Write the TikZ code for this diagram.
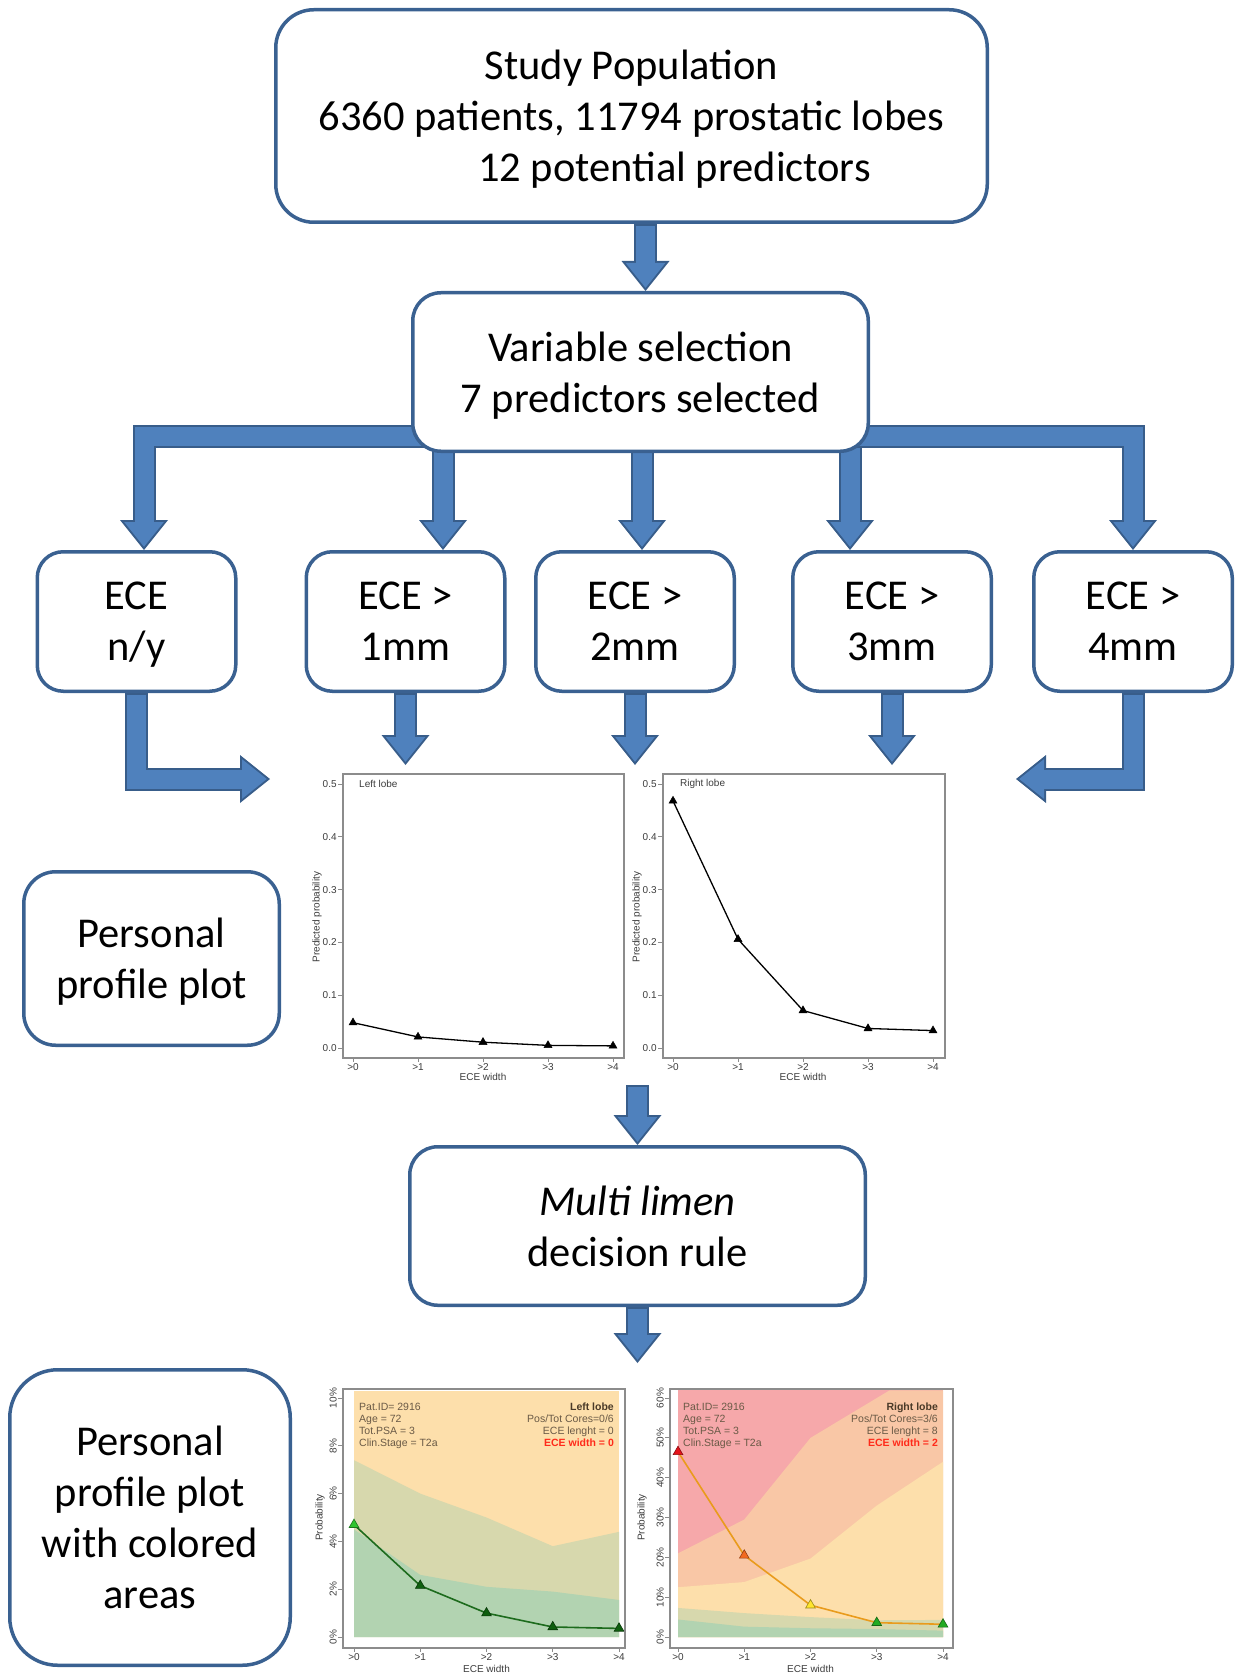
\documentclass[tikz,border=0pt]{standalone}
\usepackage{fontspec}
\setmainfont{Carlito}
\newfontfamily\plotfont{Liberation Sans}
\usetikzlibrary{arrows.meta, positioning, backgrounds, plotmarks}

\definecolor{boxline}{HTML}{3A6191}
\definecolor{flowfill}{HTML}{4F81BD}
\definecolor{flowline}{HTML}{385D8A}
\definecolor{axisgrey}{HTML}{8C8C8C}
\definecolor{ticktext}{HTML}{3C3C3C}
\definecolor{bandorange}{HTML}{FDDFAB}
\definecolor{bandolive}{HTML}{D7D8AD}
\definecolor{bandgreen}{HTML}{B2D3B1}
\definecolor{bandpink}{HTML}{F6A8AA}
\definecolor{bandsalmon}{HTML}{F9C7A6}
\definecolor{infotext}{HTML}{6A5A46}
\definecolor{infodark}{HTML}{4A3A28}
\definecolor{widthred}{HTML}{FF2A1A}
\definecolor{curvegreen}{HTML}{1D6B1D}
\definecolor{curveorange}{HTML}{E99B1C}
\definecolor{markgreen}{HTML}{0F5F0F}
\definecolor{marklime}{HTML}{2FC42F}
\definecolor{markred}{HTML}{E5121A}
\definecolor{markorange}{HTML}{F26A1F}
\definecolor{markyellow}{HTML}{FFE52E}
\definecolor{markmid}{HTML}{22AA22}

\begin{document}
\begin{tikzpicture}[
    x=1pt, y=-1pt,
    every node/.style={font=\fontsize{42.5pt}{51pt}\selectfont},
    box/.style={draw=boxline, line width=3.5pt, fill=white, align=center, inner sep=0pt, text depth=0pt},
    ecebox/.style={box, rounded corners=26pt, minimum width=198.5pt, minimum height=139.5pt},
    flow/.style={draw=flowline, line width=23pt,
      -{Triangle[length=30pt 0 0, width=48pt 0 0, line width=0pt 0 0]},
      postaction={draw=flowfill, line width=19pt, shorten <=2pt, shorten >=3.2pt,
        -{Triangle[length=24.8pt 0 0, width=39.7pt 0 0, line width=0pt 0 0]}}},
    plotframe/.style={draw=axisgrey, line width=1.2pt, inner sep=0pt},
    tickmark/.style={draw=axisgrey, line width=0.8pt},
    ticklbl/.style={font=\plotfont\fontsize{10pt}{11pt}\selectfont, text=ticktext, inner sep=1pt},
    info/.style={font=\plotfont\fontsize{10.5pt}{12pt}\selectfont, text=infotext, align=left, inner sep=0pt},
    profile/.style={draw=black, line width=1.3pt, mark=triangle*, mark size=4.6pt,
      mark options={fill=black, line width=0.5pt}},
    trend/.style={line width=1.6pt},
    tri/.style={mark=triangle*, mark size=5.6pt, mark options={fill=#1, draw=#1!60!black, line width=0.6pt}}
  ]
  \useasboundingbox (0,0) rectangle (1240,1677);

  % flow chart boxes
  \node[box, rounded corners=38pt, minimum width=711.5pt, minimum height=212.5pt] (study) at (631.5,116)
    {Study Population\\6360 patients, 11794 prostatic lobes\\\hspace*{86pt}12 potential predictors};
  \node[box, rounded corners=28pt, minimum width=455.5pt, minimum height=158.5pt,
    below=67pt of study, xshift=9pt] (varsel) {Variable selection\\7 predictors selected};

  \node[ecebox] (ece0) at (136.5,621.5) {ECE\\n/y};
  \node[ecebox, right=67pt of ece0] (ece1) {ECE >\\1mm};
  \node[ecebox, right=27.5pt of ece1] (ece2) {ECE >\\2mm};
  \node[ecebox, right=55pt of ece2] (ece3) {ECE >\\3mm};
  \node[ecebox, right=39pt of ece3] (ece4) {ECE >\\4mm};

  \node[box, rounded corners=32pt, minimum width=255.5pt, minimum height=173.5pt] (ppbox) at (151.5,958.5)
    {Personal\\profile plot};
  \node[box, rounded corners=28pt, minimum width=455.5pt, minimum height=158.5pt] (multi) at (637.5,1226)
    {\textit{Multi limen}\\decision rule};
  \node[box, rounded corners=48pt, minimum width=280.5pt, minimum height=295.5pt] (ppcbox) at (150,1517.5)
    {Personal\\profile plot\\with colored\\areas};

  % profile plots
  \node[plotframe, minimum width=281pt, minimum height=284pt] (plotL) at (483.5,916) {};
  \begin{scope}[shift={(353,1048)}, x=65pt, y=528pt]
    \foreach \v [count=\k] in {0.0,0.1,0.2,0.3,0.4,0.5}
      \draw[tickmark] (-0.154,\v) -- ++(-5pt,0pt) node[ticklbl, anchor=east] (pyL\k) {\v};
    \foreach \t [count=\k from 0] in {>0,>1,>2,>3,>4}
      \draw[tickmark] (\k,-0.019) -- ++(0pt,-4pt) node[ticklbl, anchor=north] (pxL\k) {\t};
    \node[ticklbl, anchor=north] (pxlabL) at (2,-0.045) {ECE width};
    \node[ticklbl, rotate=90] (pylabL) at (-0.554,0.248) {Predicted probability};
    \node[ticklbl, anchor=west] (lobetL) at (0.077,0.5) {Left lobe};
    \draw[profile] plot coordinates {(0,0.048) (1,0.021) (2,0.011) (3,0.005) (4,0.004)};
  \end{scope}

  \node[plotframe, minimum width=282pt, minimum height=284pt] (plotR) at (804,916) {};
  \begin{scope}[shift={(673,1048)}, x=65pt, y=528pt]
    \foreach \v [count=\k] in {0.0,0.1,0.2,0.3,0.4,0.5}
      \draw[tickmark] (-0.154,\v) -- ++(-5pt,0pt) node[ticklbl, anchor=east] (pyR\k) {\v};
    \foreach \t [count=\k from 0] in {>0,>1,>2,>3,>4}
      \draw[tickmark] (\k,-0.019) -- ++(0pt,-4pt) node[ticklbl, anchor=north] (pxR\k) {\t};
    \node[ticklbl, anchor=north] (pxlabR) at (2,-0.045) {ECE width};
    \node[ticklbl, rotate=90] (pylabR) at (-0.554,0.248) {Predicted probability};
    \node[ticklbl, anchor=west] (lobetR) at (0.09,0.5) {Right lobe};
    \draw[profile] plot coordinates {(0,0.468) (1,0.206) (2,0.071) (3,0.037) (4,0.033)};
  \end{scope}

  % profile plots with colored areas
  \begin{scope}[shift={(354,1637)}, x=66.25pt, y=23.9pt]
    \fill[bandorange] (0,0) rectangle (4,10.3);
    \fill[bandolive] (0,0) -- (0,7.4) -- (1,6.0) -- (2,5.0) -- (3,3.8) -- (4,4.4) -- (4,0) -- cycle;
    \fill[bandgreen] (0,0) -- (0,4.5) -- (1,2.6) -- (2,2.1) -- (3,1.9) -- (4,1.55) -- (4,0) -- cycle;
    \draw[trend, draw=curvegreen] (0,4.7) -- (1,2.15) -- (2,1.0) -- (3,0.42) -- (4,0.36);
    \foreach \i/\p/\c in {0/4.7/marklime, 1/2.15/markgreen, 2/1.0/markgreen, 3/0.42/markgreen, 4/0.36/markgreen}
      \path[tri=\c] plot coordinates {(\i,\p)};
    \foreach \v in {0,2,4,6,8,10}
      \draw[tickmark] (-0.166,\v) -- ++(-5pt,0pt) node[ticklbl, rotate=90, anchor=south] (ayL\v) {\v\%};
    \foreach \t [count=\k from 0] in {>0,>1,>2,>3,>4}
      \draw[tickmark] (\k,-0.46) -- ++(0pt,-4pt) node[ticklbl, anchor=north] (axL\k) {\t};
    \node[ticklbl, anchor=north] (axlabL) at (2,-1.12) {ECE width};
    \node[ticklbl, rotate=90] (aylabL) at (-0.513,5) {Probability};
    \node[info, anchor=north west] (patL) at (0.075,9.8)
      {Pat.ID= 2916\\Age = 72\\Tot.PSA = 3\\Clin.Stage = T2a};
    \node[info, anchor=north east, align=right] (lobeL) at (3.925,9.8)
      {\textbf{\color{infodark}Left lobe}\\Pos/Tot Cores=0/6\\ECE lenght = 0\\\textbf{\color{widthred}ECE width = 0}};
  \end{scope}
  \node[plotframe, minimum width=282pt, minimum height=259pt] (areaL) at (484,1518.5) {};

  \begin{scope}[shift={(678,1637)}, x=66.25pt, y=3.983pt]
    \fill[bandpink] (0,0) rectangle (4,61.9);
    \fill[bandsalmon] (0,0) -- (0,21) -- (1,29.5) -- (2,50) -- (3.19,61.9) -- (4,61.9) -- (4,0) -- cycle;
    \fill[bandorange] (0,0) -- (0,12.5) -- (1,13.8) -- (2,19.7) -- (3,33) -- (4,44) -- (4,0) -- cycle;
    \fill[bandolive] (0,0) -- (0,7.3) -- (1,6.0) -- (2,5.0) -- (3,4.2) -- (4,4.3) -- (4,0) -- cycle;
    \fill[bandgreen] (0,0) -- (0,4.4) -- (1,2.6) -- (2,2.2) -- (3,2.0) -- (4,1.6) -- (4,0) -- cycle;
    \draw[trend, draw=curveorange] (0,46.5) -- (1,20.5) -- (2,8) -- (3,3.6) -- (4,3.2);
    \foreach \i/\p/\c in {0/46.5/markred, 1/20.5/markorange, 2/8/markyellow, 3/3.6/markmid, 4/3.2/markmid}
      \path[tri=\c] plot coordinates {(\i,\p)};
    \foreach \v in {0,10,...,60}
      \draw[tickmark] (-0.12,\v) -- ++(-5pt,0pt) node[ticklbl, rotate=90, anchor=south] (ayR\v) {\v\%};
    \foreach \t [count=\k from 0] in {>0,>1,>2,>3,>4}
      \draw[tickmark] (\k,-2.76) -- ++(0pt,-4pt) node[ticklbl, anchor=north] (axR\k) {\t};
    \node[ticklbl, anchor=north] (axlabR) at (2,-6.7) {ECE width};
    \node[ticklbl, rotate=90] (aylabR) at (-0.543,30) {Probability};
    \node[info, anchor=north west] (patR) at (0.075,58.75)
      {Pat.ID= 2916\\Age = 72\\Tot.PSA = 3\\Clin.Stage = T2a};
    \node[info, anchor=north east, align=right] (lobeR) at (3.925,58.75)
      {\textbf{\color{infodark}Right lobe}\\Pos/Tot Cores=3/6\\ECE lenght = 8\\\textbf{\color{widthred}ECE width = 2}};
  \end{scope}
  \node[plotframe, minimum width=283pt, minimum height=259pt] (areaR) at (811.5,1518.5) {};

  % arrow ends near the plots
  \coordinate (intoTop) at (0,765);
  \coordinate (intoL) at (270,779);
  \coordinate (intoR) at (1016,779);
  \coordinate (fromPlots) at (637.5,1085);
  \coordinate (intoAreas) at (637.5,1363);

  % block arrows
  \begin{scope}[on background layer]
    \draw[flow] ([xshift=14pt]study.south) -- ([xshift=5pt]varsel.north);
    \draw[flow] ([xshift=20pt,yshift=17pt]varsel.south west) -| ([xshift=7.5pt]ece0.north);
    \draw[flow] ([xshift=37.5pt]ece1.north |- varsel.center) -- ([xshift=37.5pt]ece1.north);
    \draw[flow] ([xshift=7pt]ece2.north |- varsel.center) -- ([xshift=7pt]ece2.north);
    \draw[flow] ([xshift=-42pt]ece3.north |- varsel.center) -- ([xshift=-42pt]ece3.north);
    \draw[flow] ([xshift=-20pt,yshift=17pt]varsel.south east) -| (ece4.north);
    \draw[flow] (ece0) |- (intoL);
    \draw[flow] (ece1) -- (ece1 |- intoTop);
    \draw[flow] (ece2) -- (ece2 |- intoTop);
    \draw[flow] (ece3) -- (ece3 |- intoTop);
    \draw[flow] (ece4) |- (intoR);
    \draw[flow] (fromPlots) -- (multi);
    \draw[flow] (multi) -- (intoAreas);
  \end{scope}
\end{tikzpicture}
\end{document}
